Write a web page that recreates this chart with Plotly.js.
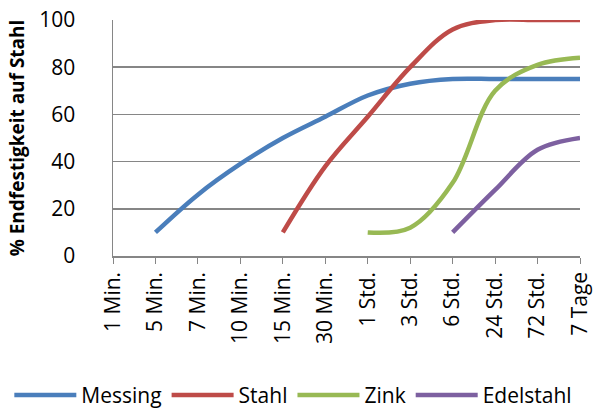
<!DOCTYPE html>
<html><head><meta charset="utf-8">
<script src="https://cdn.plot.ly/plotly-3.0.1.min.js"></script>
<style>html,body{margin:0;padding:0;background:#fff}#c{width:603px;height:408px}</style>
</head><body><div id="c"></div>
<script>
const categories = ["1 Min.","5 Min.","7 Min.","10 Min.","15 Min.","30 Min.","1 Std.","3 Std.","6 Std.","24 Std.","72 Std.","7 Tage"];
const messing   = [null,10,26,39,50,59,68,73,75,75,75,75];
const stahl     = [null,null,null,null,10,38,59,80,96,100,100,100];
const zink      = [null,null,null,null,null,null,10,12,31,70,81,84];
const edelstahl = [null,null,null,null,null,null,null,null,10,28,45,50];
const yTicks = [0,20,40,60,80,100];

const FONT = "Open Sans, sans-serif";
function tr(name, y, color){
  return {type:"scatter", mode:"lines", name:name, x:categories, y:y,
    line:{color:color, width:4.5, shape:"spline", smoothing:1}, connectgaps:false};
}
const data = [
  tr("Messing", messing, "#4A7EBB"),
  tr("Stahl", stahl, "#BE4B48"),
  tr("Zink", zink, "#98B954"),
  tr("Edelstahl", edelstahl, "#7D60A0")
];
const layout = {
  width:603, height:408,
  margin:{l:113, r:23, t:20, b:152, autoexpand:false},
  paper_bgcolor:"#fff", plot_bgcolor:"#fff",
  font:{family:FONT, size:20, color:"#000"},
  showlegend:true,
  legend:{orientation:"h", xref:"paper", yref:"paper", x:-0.222, xanchor:"left", y:-0.59, yanchor:"middle",
    font:{size:21}, itemwidth:62, tracegroupgap:0},
  xaxis:{type:"category", categoryorder:"array", categoryarray:categories, range:[0,11],
    showgrid:false, showline:true, linecolor:"#868686", linewidth:1.5,
    ticks:"outside", ticklen:6, tickcolor:"#868686", tickangle:-90, tickfont:{size:21},
    zeroline:false, fixedrange:true},
  yaxis:{range:[0,100], tickvals:yTicks, showgrid:true, gridcolor:"#868686", gridwidth:1.5,
    showline:true, linecolor:"#868686", linewidth:1.5, ticks:"outside", ticklen:32, tickcolor:"rgba(0,0,0,0)",
    tickfont:{size:21},
    zeroline:false, title:{text:"% Endfestigkeit auf Stahl", font:{size:19, weight:"bold"}, standoff:9}}
};
Plotly.newPlot("c", data, layout, {displayModeBar:false, staticPlot:true});
</script></body></html>
